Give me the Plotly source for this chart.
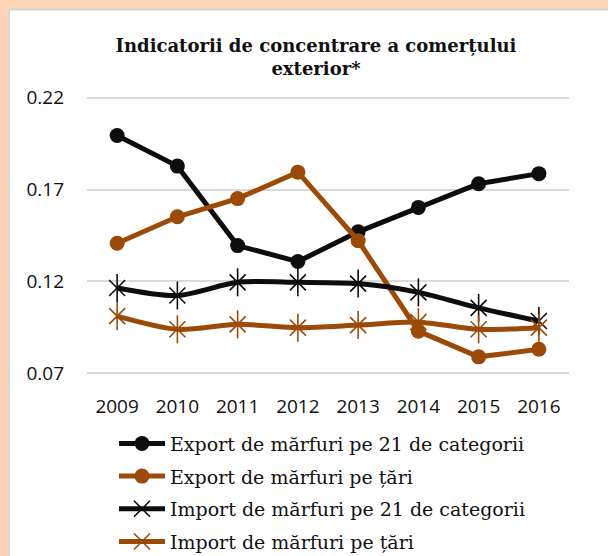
import plotly.graph_objects as go

years = ["2009", "2010", "2011", "2012", "2013", "2014", "2015", "2016"]
export_cat = [0.1995, 0.1828, 0.1395, 0.1308, 0.1470, 0.1603, 0.1732, 0.1787]
export_tari = [0.1408, 0.1552, 0.1651, 0.1795, 0.1422, 0.0929, 0.0789, 0.0830]
import_cat = [0.1164, 0.1123, 0.1195, 0.1195, 0.1188, 0.1140, 0.1056, 0.0984]
import_tari = [0.1011, 0.0939, 0.0966, 0.0948, 0.0962, 0.0978, 0.0939, 0.0948]
names = ["Export de mărfuri pe 21 de categorii", "Export de mărfuri pe țări",
         "Import de mărfuri pe 21 de categorii", "Import de mărfuri pe țări"]
y_ticks = [0.07, 0.12, 0.17, 0.22]

BLACK = "#0D0D0D"
ORANGE = "#9C4A08"
W, H = 608, 556
# plot area: 0.07 -> y=373.5, 0.22 -> y=97.5 ; range padded by 0.001 (~1.84 px)
PAD = 0.001
PXU = (373.5 - 97.5) / 0.15
L, R = 87, 39
T = 97.5 - PAD * PXU
B = H - (373.5 + PAD * PXU)
PW, PH = W - L - R, H - T - B

def px_x(p):
    return (p - L) / PW

def px_y(p):
    return (H - B - p) / PH

fig = go.Figure()
fig.add_trace(go.Scatter(x=years, y=export_cat, name=names[0], mode="lines+markers",
                         line=dict(color=BLACK, width=5),
                         marker=dict(symbol="circle", size=15, color=BLACK),
                         legendgroup="a"))
fig.add_trace(go.Scatter(x=years, y=export_tari, name=names[1], mode="lines+markers",
                         line=dict(color=ORANGE, width=5),
                         marker=dict(symbol="circle", size=15, color=ORANGE),
                         legendgroup="b"))
for vals, nm, col, grp in [(import_cat, names[2], BLACK, "c"), (import_tari, names[3], ORANGE, "d")]:
    fig.add_trace(go.Scatter(x=years, y=vals, name=nm, mode="lines+markers",
                             line=dict(color=col, width=5, shape="spline", smoothing=0.8),
                             marker=dict(symbol="x-thin-open", size=16, color=col,
                                         line=dict(color=col, width=1.6)),
                             legendgroup=grp))
    fig.add_trace(go.Scatter(x=years, y=vals, mode="markers", showlegend=False,
                             marker=dict(symbol="line-ns-open", size=20, color=col,
                                         line=dict(color=col, width=1.6)),
                             legendgroup=grp, hoverinfo="skip"))

fig.add_shape(type="rect", xref="paper", yref="paper", layer="below",
              x0=px_x(9), x1=px_x(640), y0=px_y(600), y1=px_y(9),
              fillcolor="white", line=dict(color="#D6D6D6", width=2))

fig.update_layout(
    width=W, height=H,
    margin=dict(l=L, r=R, t=T, b=B, autoexpand=False),
    paper_bgcolor="#FDD5B6",
    plot_bgcolor="rgba(0,0,0,0)",
    title=dict(text="Indicatorii de concentrare a comerțului<br>exterior*",
               x=316 / W, xanchor="center", y=1 - 52 / H, yanchor="middle",
               xref="container", yref="container",
               font=dict(family="DejaVu Serif", size=18, color="#111111", weight="bold")),
    showlegend=True,
    legend=dict(x=px_x(114), y=px_y(425), xanchor="left", yanchor="top",
                font=dict(family="DejaVu Serif", size=19, color="#111111"),
                tracegroupgap=5, itemwidth=46, bgcolor="rgba(0,0,0,0)"),
    xaxis=dict(type="category", range=[-0.5, 7.5], showgrid=False, showline=False,
               zeroline=False, ticks="",
               tickfont=dict(family="Open Sans", size=19, color="#111111"),
               ticklabelstandoff=18),
    yaxis=dict(range=[0.07 - PAD, 0.22 + PAD], tickvals=y_ticks,
               ticktext=[f"{v:.2f}" for v in y_ticks],
               showgrid=True, gridcolor="#D9D9D9", gridwidth=2, zeroline=False,
               showline=False, ticks="",
               tickfont=dict(family="Open Sans", size=19, color="#111111"),
               ticklabelstandoff=22),
)

fig.write_html("out.html", config={"displayModeBar": False},
               post_script="document.body.style.margin='0';document.body.style.overflow='hidden';")
